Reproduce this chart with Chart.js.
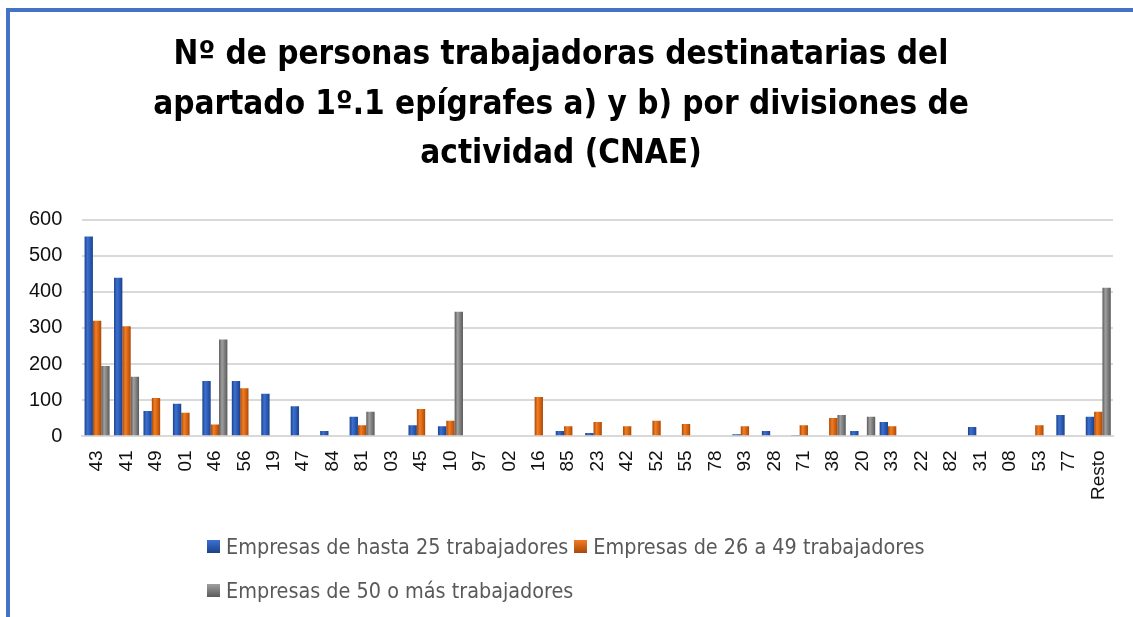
<!DOCTYPE html>
<html>
<head>
<meta charset="utf-8">
<script src="https://cdn.jsdelivr.net/npm/chart.js@4.4.0/dist/chart.umd.min.js"></script>
<style>
  html, body { margin: 0; padding: 0; background: #fff; }
  #wrap { position: relative; width: 1133px; height: 617px; overflow: hidden; }
  #frame { position: absolute; left: 6px; top: 8px; width: 1200px; height: 700px;
           border-left: 4px solid #4472C4; border-top: 4px solid #4472C4; }
  canvas { position: absolute; left: 0; top: 0; }
  #legend { position: absolute; left: 207px; top: 532px; width: 760px;
            font-family: 'Liberation Sans Narrow', 'DejaVu Sans Condensed', sans-serif;
            font-size: 21.4px; color: #595959; }
  .item { display: inline-flex; align-items: center; height: 28px; margin: 0 6px 16px 0; }
  .box { width: 13px; height: 13px; margin-right: 6px; }
</style>
</head>
<body>
<div id="wrap">
  <div id="frame"></div>
  <canvas id="grafico" width="1133" height="617"></canvas>
  <div id="legend"></div>
</div>
<script>
// Divisiones de actividad (CNAE)
const categorias = ['43', '41', '49', '01', '46', '56', '19', '47', '84', '81', '03', '45', '10', '97', '02',
    '16', '85', '23', '42', '52', '55', '78', '93', '28', '71', '38', '20', '33', '22', '82', '31', '08',
    '53', '77', 'Resto'];

// Valores
const hasta25 = [553, 439, 70, 90, 153, 153, 118, 83, 15, 54, 0, 31, 28, 0, 0,
    0, 15, 9, 0, 0, 0, 0, 6, 15, 4, 0, 15, 40, 0, 0, 26, 0,
    0, 59, 54];
const de26a49 = [320, 305, 106, 65, 33, 133, 0, 0, 0, 31, 0, 76, 43, 0, 0,
    109, 28, 40, 28, 43, 34, 0, 28, 0, 31, 51, 0, 28, 0, 0, 0, 0,
    31, 0, 68];
const de50mas = [195, 165, 0, 0, 268, 0, 0, 0, 0, 68, 0, 0, 345, 0, 0,
    0, 0, 0, 0, 0, 0, 0, 0, 0, 0, 59, 54, 0, 0, 0, 0, 0,
    0, 0, 411];

const ticksY = [0, 100, 200, 300, 400, 500, 600];

const titulo = [
    'Nº de personas trabajadoras destinatarias del',
    'apartado 1º.1 epígrafes a) y b) por divisiones de',
    'actividad (CNAE)'
];

const series = [
    { label: 'Empresas de hasta 25 trabajadores', data: hasta25, colores: ['#1d4288', '#3b70d2', '#2a58b0'] },
    { label: 'Empresas de 26 a 49 trabajadores', data: de26a49, colores: ['#a8490a', '#f27d22', '#d3610f'] },
    { label: 'Empresas de 50 o más trabajadores', data: de50mas, colores: ['#5a5a5a', '#a0a0a0', '#7a7a7a'] }
];

const fuenteTitulo = "'Liberation Sans Narrow', 'DejaVu Sans Condensed', sans-serif";

/**
 * Relleno degradado horizontal tipo Excel para cada barra
 */
function rellenoBarra(colores) {
    return function (ctx) {
        const el = ctx.element;
        if (!el || !isFinite(el.x) || !el.width) {
            return colores[2];
        }
        const x0 = el.x - el.width / 2;
        const g = ctx.chart.ctx.createLinearGradient(x0, 0, x0 + el.width, 0);
        g.addColorStop(0, colores[0]);
        g.addColorStop(0.35, colores[1]);
        g.addColorStop(0.7, colores[2]);
        g.addColorStop(1, colores[0]);
        return g;
    };
}

const datasets = series.map(s => ({
    label: s.label,
    data: s.data,
    backgroundColor: rellenoBarra(s.colores),
    borderWidth: 0,
    categoryPercentage: 0.85,
    barPercentage: 1.0
}));

const chart = new Chart(document.getElementById('grafico'), {
    type: 'bar',
    data: { labels: categorias, datasets: datasets },
    options: {
        responsive: false,
        animation: false,
        layout: { padding: { left: 9, right: 20, top: 10, bottom: 111 } },
        plugins: {
            legend: { display: false },
            tooltip: { enabled: false },
            title: {
                display: true,
                text: titulo,
                color: '#000',
                font: { family: fuenteTitulo, size: 33, weight: 'bold', lineHeight: 1.5 },
                padding: { top: 21, bottom: 40 }
            }
        },
        scales: {
            x: {
                grid: { display: false },
                border: { color: '#d9d9d9', width: 2 },
                ticks: {
                    color: '#111',
                    font: { family: "'Liberation Sans', Arial, sans-serif", size: 19 },
                    maxRotation: 90, minRotation: 90, autoSkip: false, padding: 6
                }
            },
            y: {
                min: 0, max: 600,
                afterBuildTicks: axis => { axis.ticks = ticksY.map(v => ({ value: v })); },
                grid: { color: '#d9d9d9', lineWidth: 2, drawTicks: false },
                border: { display: false },
                ticks: {
                    color: '#111',
                    font: { family: "'Liberation Sans', Arial, sans-serif", size: 20 },
                    padding: 20
                }
            }
        }
    }
});
// segunda pasada para que el degradado use las posiciones de las barras
chart.update('none');

// Leyenda en HTML a partir de los datasets
const leyenda = document.getElementById('legend');
series.forEach(s => {
    const item = document.createElement('span');
    item.className = 'item';
    const caja = document.createElement('span');
    caja.className = 'box';
    caja.style.background = 'linear-gradient(180deg, ' + s.colores[1] + ', ' + s.colores[0] + ')';
    item.appendChild(caja);
    item.appendChild(document.createTextNode(s.label));
    leyenda.appendChild(item);
});
</script>
</body>
</html>
